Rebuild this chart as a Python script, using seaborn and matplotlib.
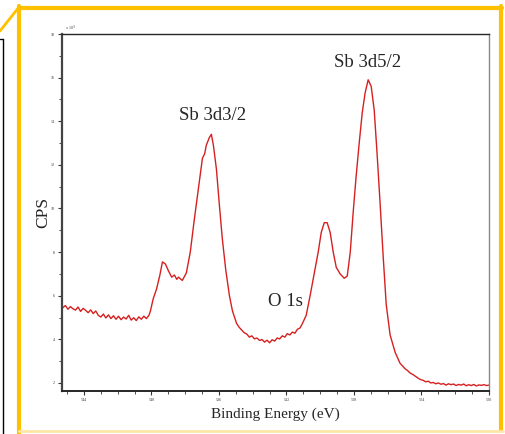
import numpy as np
import pandas as pd
import seaborn as sns
import matplotlib.pyplot as plt
from matplotlib.lines import Line2D
from matplotlib.ticker import MultipleLocator

# espectro XPS Sb 3d / O 1s (CPS en miles)
# linea base izquierda
be_base = [545.25, 545.1, 544.95, 544.8, 544.65, 544.5, 544.35, 544.2, 544.05, 543.9,
           543.75, 543.6, 543.45, 543.3, 543.15, 543.0, 542.85, 542.7, 542.55, 542.4,
           542.25, 542.1, 541.95, 541.8, 541.65, 541.5, 541.35, 541.2, 541.05, 540.9,
           540.75, 540.6, 540.45, 540.3, 540.15]
cps_base = [5.45, 5.55, 5.38, 5.50, 5.40, 5.34, 5.48, 5.28, 5.42, 5.33,
            5.22, 5.35, 5.18, 5.30, 5.10, 5.02, 5.16, 4.98, 5.12, 4.95,
            5.08, 4.92, 5.06, 4.90, 5.02, 4.93, 5.10, 4.88, 4.99, 4.86,
            5.03, 4.92, 5.06, 4.95, 5.10]
# Sb 3d3/2 con hombro
be_3d3 = [540.06, 539.9, 539.7, 539.5, 539.35, 539.17, 539.0, 538.8, 538.64, 538.5,
          538.4, 538.17, 537.93, 537.7, 537.46, 537.2, 536.98, 536.85, 536.75, 536.57,
          536.45, 536.33, 536.15, 535.98, 535.8, 535.6, 535.38, 535.2]
cps_3d3 = [5.30, 5.85, 6.30, 6.95, 7.55, 7.45, 7.15, 6.85, 6.95, 6.75,
           6.85, 6.70, 7.05, 8.00, 9.50, 11.0, 12.3, 12.5, 12.9, 13.25,
           13.4, 12.9, 11.8, 10.2, 8.6, 7.2, 6.0, 5.3]
# valle / O 1s
be_o1s = [535.05, 534.95, 534.8, 534.65, 534.5, 534.35, 534.2, 534.05, 533.9, 533.75,
          533.6, 533.45, 533.3, 533.15, 533.0, 532.85, 532.7, 532.55, 532.4, 532.25,
          532.1, 531.95, 531.8, 531.65, 531.5, 531.35, 531.2, 531.07]
cps_o1s = [4.95, 4.72, 4.55, 4.42, 4.30, 4.24, 4.10, 4.16, 4.02, 4.06,
           3.95, 3.99, 3.87, 3.96, 3.84, 3.98, 3.92, 4.06, 4.02, 4.16, 4.10, 4.26,
           4.20, 4.33, 4.28, 4.46, 4.52, 4.70]
# Sb 3d5/2 con hombro
be_3d5 = [530.83, 530.6, 530.36, 530.12, 529.94, 529.76, 529.59, 529.41, 529.23, 529.05,
          528.82, 528.58, 528.4, 528.22, 528.05, 527.87, 527.69, 527.51, 527.34, 527.16,
          526.98, 526.8, 526.63, 526.45, 526.27, 526.09, 525.86, 525.56, 525.27, 524.97]
cps_3d5 = [5.10, 6.00, 7.00, 8.00, 8.90, 9.35, 9.35, 8.90, 8.00, 7.30,
           7.00, 6.80, 6.90, 8.00, 9.80, 11.5, 13.0, 14.4, 15.3, 15.9,
           15.6, 14.5, 12.5, 10.2, 7.80, 5.60, 4.20, 3.40, 2.90, 2.65]
# cola derecha
be_tail = [524.8, 524.67, 524.5, 524.35, 524.2, 524.05, 523.9, 523.75, 523.6, 523.45,
           523.3, 523.15, 523.0, 522.85, 522.7, 522.55, 522.4, 522.25, 522.1, 521.95,
           521.8, 521.65, 521.5, 521.35, 521.2, 521.05, 520.9, 520.75, 520.6, 520.45,
           520.3, 520.15, 520.0]
cps_tail = [2.55, 2.45, 2.38, 2.30, 2.22, 2.15, 2.12, 2.05, 2.08, 2.00,
            2.02, 1.96, 2.00, 1.94, 1.97, 1.90, 1.96, 1.92, 1.95, 1.88,
            1.93, 1.90, 1.95, 1.87, 1.92, 1.88, 1.93, 1.86, 1.91, 1.89,
            1.92, 1.88, 1.90]

peak_labels = ["Sb 3d3/2", "Sb 3d5/2", "O 1s"]
label_x = [536.4, 527.2, 532.07]
label_y = [14.24, 16.7, 5.75]

df = pd.DataFrame({"be": be_base + be_3d3 + be_o1s + be_3d5 + be_tail,
                   "cps": cps_base + cps_3d3 + cps_o1s + cps_3d5 + cps_tail})

sns.set_style("ticks")
plt.rcParams["font.family"] = ["Liberation Serif", "DejaVu Serif"]

fig = plt.figure(figsize=(5.06, 4.34), dpi=100)
ax = fig.add_axes([62 / 506, 1 - 391 / 434, 427 / 506, 357 / 434])

sns.lineplot(data=df, x="be", y="cps", color="#d62020", lw=1, ax=ax, sort=False)

ax.set_xlim(545.3, 520)
ax.set_ylim(1.63, 18)
ax.xaxis.set_major_locator(MultipleLocator(4))
ax.xaxis.set_minor_locator(MultipleLocator(1))
ax.yaxis.set_major_locator(MultipleLocator(2))
ax.yaxis.set_minor_locator(MultipleLocator(1))
ax.tick_params(axis="both", which="major", labelsize=3, length=3, width=0.8, colors="#333333", pad=2)
ax.tick_params(axis="both", which="minor", length=2, width=0.6, colors="#333333")
ax.set_xticklabels([f"{int(t)}" for t in ax.get_xticks()])

ax.set_xlabel("Binding Energy (eV)", fontsize=11, labelpad=4)
ax.set_ylabel("CPS", fontsize=12.5, labelpad=0)
ax.text(545.1, 18.05, "x 10$^3$", fontsize=3, color="#444444", va="bottom")

for t, x, y in zip(peak_labels, label_x, label_y):
    ax.text(x, y, t, fontsize=13.5, ha="center", va="center")

for side in ["top", "right", "left", "bottom"]:
    ax.spines[side].set_visible(True)
ax.spines["left"].set_linewidth(1.6)
ax.spines["left"].set_color("#444444")
ax.spines["bottom"].set_linewidth(1.4)
ax.spines["top"].set_linewidth(1.0)
ax.spines["right"].set_linewidth(1.0)
ax.spines["right"].set_color("#888888")

# marco amarillo de la captura
W, H = 506, 434
def fl(xs, ys, **kw):
    fig.add_artist(Line2D([x / W for x in xs], [1 - y / H for y in ys], transform=fig.transFigure, **kw))

yel = "#ffc000"
fl([19, 502], [7.5, 7.5], color=yel, lw=3)
fl([19, 19], [6, 434], color=yel, lw=3)
fl([501.5, 501.5], [6, 430], color=yel, lw=3)
fl([19, 503], [430.5, 430.5], color="#fde6a6", lw=2)
fl([0, 19], [31, 7], color=yel, lw=2)
fl([0, 3.5], [38.5, 38.5], color="black", lw=1)
fl([3.5, 3.5], [38.5, 434], color="black", lw=1)

fig.savefig("out.png", dpi=100)
